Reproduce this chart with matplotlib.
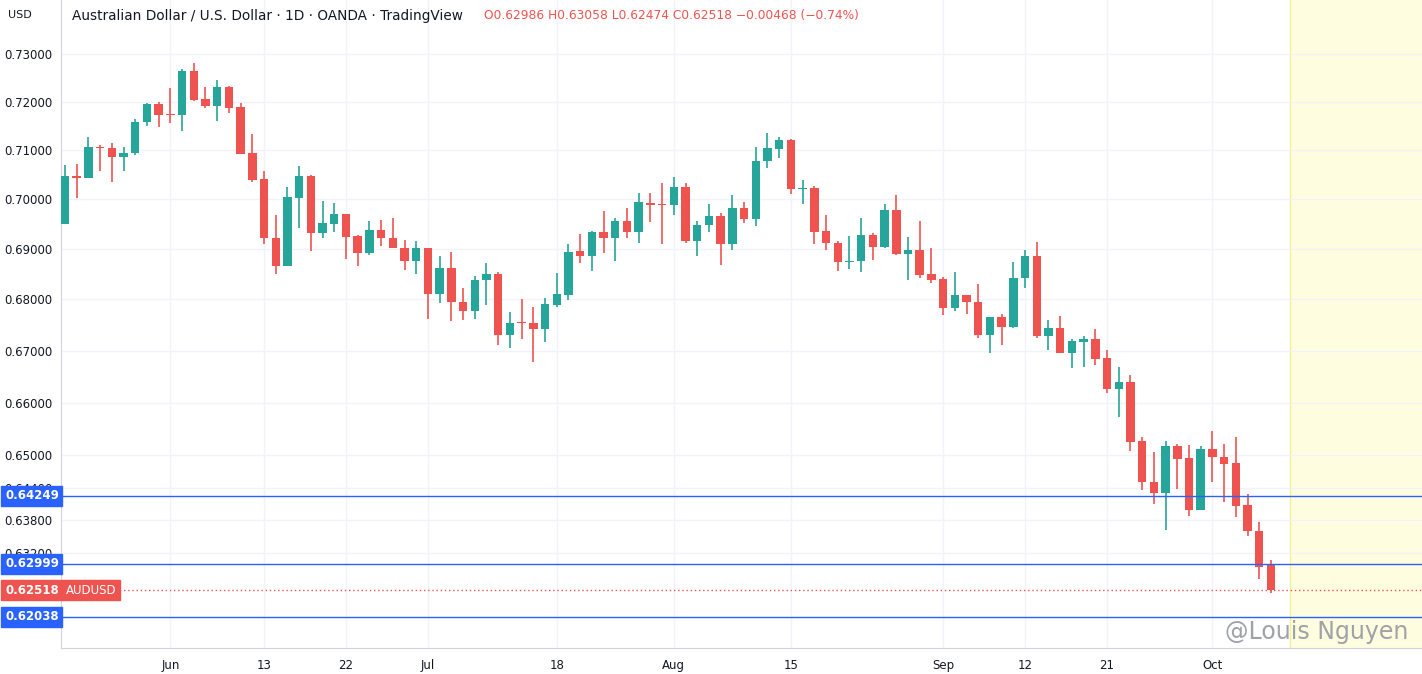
import matplotlib
matplotlib.use("Agg")
import matplotlib.pyplot as plt
from matplotlib.transforms import blended_transform_factory
import numpy as np

opens = [0.6950,0.7047,0.7043,0.7107,0.7105,0.7085,0.7095,0.7157,0.7196,0.7175,
         0.7172,0.7264,0.7206,0.7192,0.7231,0.7189,0.7094,0.7040,0.6922,0.6867,
         0.7003,0.7048,0.6931,0.6950,0.6971,0.6925,0.6891,0.6937,0.6922,0.6902,
         0.6875,0.6902,0.6811,0.6862,0.6795,0.6778,0.6838,0.6851,0.6730,0.6755,
         0.6754,0.6743,0.6790,0.6809,0.6896,0.6885,0.6933,0.6921,0.6955,0.6933,
         0.6993,0.6990,0.6988,0.7024,0.6915,0.6948,0.6967,0.6909,0.6982,0.6960,
         0.7077,0.7103,0.7121,0.7020,0.7022,0.6935,0.6912,0.6873,0.6875,0.6927,
         0.6903,0.6978,0.6889,0.6898,0.6850,0.6840,0.6784,0.6809,0.6795,0.6731,
         0.6765,0.6746,0.6842,0.6886,0.6728,0.6745,0.6696,0.6717,0.6722,0.6686,
         0.6626,0.6639,0.6527,0.6451,0.6429,0.6517,0.6495,0.6399,0.6512,0.6498,
         0.6485,0.6408,0.6360,0.62986]
highs = [0.7070,0.7072,0.7128,0.7110,0.7115,0.7107,0.7164,0.7198,0.7200,0.7228,
         0.7269,0.7281,0.7231,0.7246,0.7233,0.7198,0.7134,0.7058,0.6969,0.7024,
         0.7068,0.7050,0.6996,0.6992,0.6971,0.6927,0.6955,0.6957,0.6963,0.6918,
         0.6916,0.6902,0.6886,0.6893,0.6823,0.6847,0.6872,0.6854,0.6775,0.6801,
         0.6785,0.6803,0.6853,0.6909,0.6929,0.6935,0.6976,0.6963,0.6982,0.7012,
         0.7012,0.7032,0.7046,0.7032,0.6955,0.6990,0.6973,0.7008,0.6994,0.7106,
         0.7135,0.7128,0.7123,0.7038,0.7026,0.6969,0.6916,0.6926,0.6961,0.6931,
         0.6990,0.7008,0.6924,0.6955,0.6902,0.6845,0.6854,0.6809,0.6831,0.6765,
         0.6771,0.6874,0.6897,0.6914,0.6759,0.6768,0.6722,0.6729,0.6743,0.6701,
         0.6668,0.6653,0.6535,0.6507,0.6527,0.6521,0.6519,0.6517,0.6547,0.6521,
         0.6534,0.6428,0.6377,0.63058]
lows = [0.6950,0.7003,0.7043,0.7057,0.7035,0.7057,0.7089,0.7150,0.7148,0.7155,
        0.7140,0.7201,0.7186,0.7160,0.7176,0.7093,0.7035,0.6910,0.6850,0.6867,
        0.6942,0.6896,0.6921,0.6933,0.6879,0.6867,0.6887,0.6905,0.6901,0.6858,
        0.6851,0.6762,0.6792,0.6758,0.6760,0.6762,0.6790,0.6710,0.6706,0.6723,
        0.6678,0.6717,0.6786,0.6799,0.6872,0.6857,0.6891,0.6876,0.6921,0.6911,
        0.6954,0.6909,0.6968,0.6911,0.6885,0.6933,0.6869,0.6897,0.6952,0.6946,
        0.7063,0.7083,0.7011,0.6990,0.6909,0.6898,0.6857,0.6861,0.6855,0.6877,
        0.6901,0.6887,0.6839,0.6843,0.6833,0.6769,0.6778,0.6771,0.6725,0.6696,
        0.6711,0.6744,0.6822,0.6724,0.6702,0.6695,0.6667,0.6669,0.6672,0.6619,
        0.6572,0.6509,0.6435,0.6410,0.6361,0.6438,0.6388,0.6399,0.6450,0.6414,
        0.6386,0.6351,0.6271,0.62474]
closes = [0.7047,0.7044,0.7106,0.7105,0.7085,0.7095,0.7158,0.7196,0.7173,0.7172,
          0.7264,0.7204,0.7192,0.7231,0.7188,0.7093,0.7039,0.6921,0.6867,0.7004,
          0.7048,0.6932,0.6951,0.6971,0.6923,0.6891,0.6937,0.6921,0.6901,0.6875,
          0.6902,0.6811,0.6862,0.6794,0.6778,0.6839,0.6851,0.6730,0.6753,0.6753,
          0.6743,0.6791,0.6810,0.6894,0.6885,0.6933,0.6921,0.6955,0.6933,0.6994,
          0.6988,0.6988,0.7024,0.6915,0.6948,0.6967,0.6909,0.6982,0.6960,0.7078,
          0.7104,0.7121,0.7021,0.7022,0.6933,0.6912,0.6873,0.6875,0.6927,0.6903,
          0.6978,0.6889,0.6898,0.6849,0.6839,0.6784,0.6809,0.6794,0.6731,0.6765,
          0.6746,0.6843,0.6886,0.6728,0.6745,0.6696,0.6719,0.6722,0.6684,0.6626,
          0.6639,0.6526,0.6450,0.6429,0.6517,0.6494,0.6399,0.6512,0.6498,0.6484,
          0.6406,0.6359,0.6294,0.62518]

date_tick_idx = [9, 17, 24, 31, 42, 52, 62, 75, 82, 89, 98]
date_tick_labels = ["Jun", "13", "22", "Jul", "18", "Aug", "15", "Sep", "12", "21", "Oct"]
price_ticks = [0.73, 0.72, 0.71, 0.70, 0.69, 0.68, 0.67, 0.66, 0.65, 0.644, 0.638, 0.632]
blue_levels = [0.64249, 0.62999, 0.62038]
last_price = 0.62518

GREEN = "#26a69a"
RED = "#ef5350"
BLUE = "#2962ff"

fig = plt.figure(figsize=(14.22, 6.74), dpi=100)
ax = fig.add_axes([61/1422, 26/674, 1361/1422, 648/674])
ax.set_yscale("log")
ax.set_ylim(0.6148, 0.7415)
ax.set_xlim(-0.34, 115.9)

n = len(opens)
x = np.arange(n)
o = np.array(opens); c = np.array(closes); h = np.array(highs); l = np.array(lows)
cols = [GREEN if cc >= oo else RED for oo, cc in zip(o, c)]
ax.vlines(x, l, h, colors=cols, linewidth=1.2, zorder=3)
bottoms = np.minimum(o, c)
heights = np.maximum(np.abs(c - o), 0.00012)
ax.bar(x, heights, bottom=bottoms, width=0.72, color=cols, zorder=4, linewidth=0)

ax.axvspan(104.6, 120, color="#fffde0", zorder=0)
ax.axvline(104.6, color="#f5ef9a", linewidth=1, zorder=1)

for lv in blue_levels:
    ax.axhline(lv, color=BLUE, linewidth=1, zorder=5)
ax.axhline(last_price, color=RED, linewidth=1, linestyle=(0, (1, 2)), zorder=5)

ax.set_xticks(date_tick_idx)
ax.set_xticklabels(date_tick_labels)
ax.set_yticks(price_ticks)
ax.set_yticklabels([f"{p:.5f}" for p in price_ticks])
ax.yaxis.set_minor_locator(matplotlib.ticker.NullLocator())
ax.grid(True, color="#f0f3fa", linewidth=1, zorder=0)
ax.tick_params(axis="both", length=0, labelsize=8.5, colors="#131722", pad=8)
ax.tick_params(axis="y", pad=6)
for s in ["top", "right"]:
    ax.spines[s].set_visible(False)
ax.spines["left"].set_color("#d1d4dc")
ax.spines["bottom"].set_color("#d1d4dc")

tr = blended_transform_factory(fig.transFigure, ax.transData)
for lv in blue_levels:
    fig.text(5/1422, 0, f"{lv:.5f}", transform=tr, fontsize=8.5, color="white",
             fontweight="bold", va="center", ha="left", zorder=10).set_position((5/1422, lv))
fig.texts.clear()
for lv in blue_levels:
    ax.text(5/1422, lv, f"{lv:.5f}", transform=tr, fontsize=8.5, color="white",
            fontweight="bold", va="center", ha="left", zorder=10,
            bbox=dict(boxstyle="square,pad=0.3", fc=BLUE, ec=BLUE))
ax.text(5/1422, last_price, f"{last_price:.5f}", transform=tr, fontsize=8.5, color="white",
        fontweight="bold", va="center", ha="left", zorder=10,
        bbox=dict(boxstyle="square,pad=0.3", fc=RED, ec=RED))
ax.text(66/1422, last_price, "AUDUSD", transform=tr, fontsize=8.5, color="white",
        va="center", ha="left", zorder=10,
        bbox=dict(boxstyle="square,pad=0.3", fc=RED, ec=RED))

fig.text(8/1422, 1 - 15/674, "USD", fontsize=8, color="#131722", va="center")
fig.text(72/1422, 1 - 16/674, "Australian Dollar / U.S. Dollar · 1D · OANDA · TradingView",
         fontsize=9.8, color="#131722", va="center")
fig.text(484/1422, 1 - 16/674,
         f"O{opens[-1]:.5f} H{highs[-1]:.5f} L{lows[-1]:.5f} C{closes[-1]:.5f} "
         f"{closes[-1]-opens[-1]:+.5f} ({(closes[-1]-opens[-1])/opens[-1]*100:+.2f}%)".replace("-", "−"),
         fontsize=8.8, color=RED, va="center")
fig.text(1408/1422, 1 - 632/674, "@Louis Nguyen", fontsize=17, color="#9598a1",
         ha="right", va="center", alpha=0.9)

fig.savefig("out.png", dpi=100)
